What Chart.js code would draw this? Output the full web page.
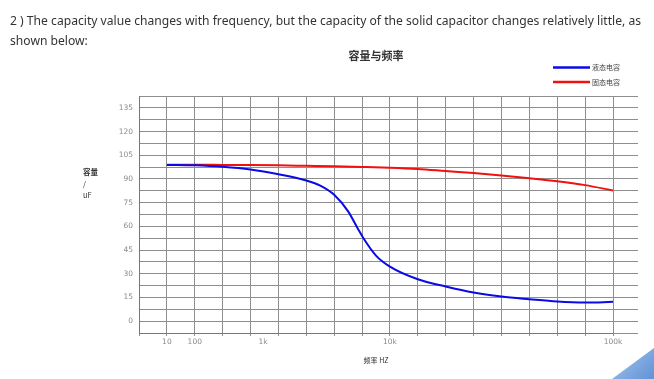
<!DOCTYPE html>
<html>
<head>
<meta charset="utf-8">
<script src="https://cdn.jsdelivr.net/npm/chart.js@4.4.0/dist/chart.umd.min.js"></script>
<style>
  html, body { margin: 0; padding: 0; background: #fff; }
  body { width: 654px; height: 379px; position: relative; overflow: hidden; }
  #wrap { position: absolute; left: 0; top: 0; width: 654px; height: 379px; }
  .line { position: absolute; left: 10px; white-space: nowrap; font-family: "Noto Sans", sans-serif; font-size: 13px; color: #333; transform-origin: 0 0; }
  #l1 { top: 11px; }
  #l2 { top: 31px; }
  #tri { position: absolute; right: 0; bottom: 0; width: 42px; height: 31px;
         background: linear-gradient(135deg, #a9c6ea, #5f92d6);
         clip-path: polygon(100% 0, 100% 100%, 0 100%); }
</style>
</head>
<body>
<div id="wrap"><canvas id="c" width="654" height="379"></canvas></div>
<div class="line" id="l1">2 ) The capacity value changes with frequency, but the capacity of the solid capacitor changes relatively little, as</div>
<div class="line" id="l2">shown below:</div>
<div id="tri"></div>
<script>
// ---- data ----
const chartTitle = '容量与频率';
const seriesNames = ['液态电容', '固态电容'];
// x positions in grid-column units (1 = "10", 2 = "100", 9 = "10k", 17 = "100k")
const liquidX = [1, 2, 3, 4, 5, 6, 6.5, 7, 7.5, 7.85, 8.05, 8.5, 9, 10, 11, 12, 13, 14, 15, 16, 17];
const liquidY = [98.9, 98.6, 97.7, 96, 93, 89, 85.8, 80, 69.5, 58.5, 52.5, 41.5, 34.5, 26.5, 21.9, 18.1, 15.6, 13.9, 12.4, 11.8, 12.2];
const solidX = [1, 2, 3, 4, 5, 6, 7, 8, 9, 10, 11, 12, 13, 14, 15, 16, 17];
const solidY = [99, 99, 98.9, 98.8, 98.6, 98.3, 98.0, 97.6, 97.1, 96.3, 95, 93.7, 92.2, 90.5, 88.6, 86.1, 82.7];
const freqTickLabels = ['10', '100', '1k', '10k', '100k'];
const freqTickPos = [1, 2, 4.45, 9, 17];
const yTitleLines = ['容量', '/', 'uF'];
const xTitle = '频率 HZ';

// fit first text line to its width
(function () {
  const l1 = document.getElementById('l1');
  const w = l1.getBoundingClientRect().width;
  const s = 631 / w;
  l1.style.transform = 'scaleX(' + s + ')';
  document.getElementById('l2').style.transform = 'scaleX(' + s + ')';
})();

const GRID = '#8e8e8e';
const CJK = '"Noto Sans CJK SC", "Noto Sans", sans-serif';
const TICKFONT = '"DejaVu Sans", sans-serif';

const toPts = (xs, ys) => xs.map((x, i) => ({ x: x, y: ys[i] }));

const extras = {
  id: 'extras',
  beforeDatasetsDraw(chart) {
    const { ctx, chartArea } = chart;
    const ys = chart.scales.y;
    ctx.save();
    ctx.strokeStyle = GRID;
    ctx.lineWidth = 1;
    ys.ticks.forEach(t => {
      const py = Math.round(ys.getPixelForValue(t.value) - 0.5) + 0.5;
      ctx.beginPath();
      ctx.moveTo(chartArea.right, py);
      ctx.lineTo(chartArea.right + 25, py);
      ctx.stroke();
    });
    ctx.restore();
  },
  afterDraw(chart) {
    const { ctx } = chart;
    ctx.save();
    // y-axis title, stacked
    ctx.fillStyle = '#333';
    ctx.textBaseline = 'middle';
    ctx.textAlign = 'left';
    const yPos = [172, 184, 195];
    yTitleLines.forEach((s, i) => {
      ctx.font = (i === 0 ? 'bold ' : '') + '7.5px ' + CJK;
      ctx.fillText(s, 83, yPos[i]);
    });
    // legend
    chart.data.datasets.forEach((ds, i) => {
      const y = 67.5 + i * 14.5;
      ctx.strokeStyle = ds.borderColor;
      ctx.lineWidth = 2.5;
      ctx.beginPath();
      ctx.moveTo(553, y);
      ctx.lineTo(590, y);
      ctx.stroke();
      ctx.fillStyle = '#444';
      ctx.font = '7px ' + CJK;
      ctx.fillText(ds.label, 592, y);
    });
    ctx.restore();
  }
};

new Chart(document.getElementById('c'), {
  type: 'line',
  data: {
    datasets: [
      { label: seriesNames[0], data: toPts(liquidX, liquidY), borderColor: '#0a0ae6', borderWidth: 2,
        pointRadius: 0, cubicInterpolationMode: 'monotone', fill: false },
      { label: seriesNames[1], data: toPts(solidX, solidY), borderColor: '#f01010', borderWidth: 2,
        pointRadius: 0, cubicInterpolationMode: 'monotone', fill: false }
    ]
  },
  plugins: [extras],
  options: {
    responsive: false,
    animation: false,
    events: [],
    layout: { padding: { top: 0, left: 0, right: 41, bottom: 10 } },
    plugins: {
      legend: { display: false },
      tooltip: { enabled: false },
      title: {
        display: true, text: chartTitle, fullSize: false,
        color: '#333', font: { family: CJK, size: 11, weight: 'bold' },
        padding: { top: 49.4, bottom: 33.4 }
      }
    },
    scales: {
      x: {
        type: 'linear', min: 0, max: 17,
        afterBuildTicks(scale) {
          const t = [];
          for (let i = 0; i <= 17; i++) t.push({ value: i });
          freqTickPos.forEach(p => { if (!Number.isInteger(p)) t.push({ value: p }); });
          t.sort((a, b) => a.value - b.value);
          scale.ticks = t;
        },
        afterFit(scale) { scale.height = 36; },
        ticks: {
          autoSkip: false, maxRotation: 0, minRotation: 0, padding: 2,
          color: '#8a8a8a', font: { family: TICKFONT, size: 7.5 },
          callback(v) { const i = freqTickPos.indexOf(v); return i >= 0 ? freqTickLabels[i] : ''; }
        },
        grid: {
          color: ctx => (ctx.tick && Number.isInteger(ctx.tick.value)) ? GRID : 'rgba(0,0,0,0)',
          tickLength: 3, drawTicks: true
        },
        border: { display: true, color: '#777' },
        title: { display: true, text: xTitle, color: '#333', font: { family: CJK, size: 7 }, padding: { top: 4, bottom: 4 } }
      },
      y: {
        min: -7.5, max: 142.5,
        afterFit(scale) { scale.width = 139; },
        ticks: {
          stepSize: 7.5, autoSkip: false, padding: 6,
          color: '#8a8a8a', font: { family: TICKFONT, size: 7.5 },
          callback(v) { return (v % 15 === 0) ? String(v) : ''; }
        },
        grid: { color: GRID, drawTicks: false },
        border: { display: true, color: '#777' }
      }
    }
  }
});
</script>
</body>
</html>
